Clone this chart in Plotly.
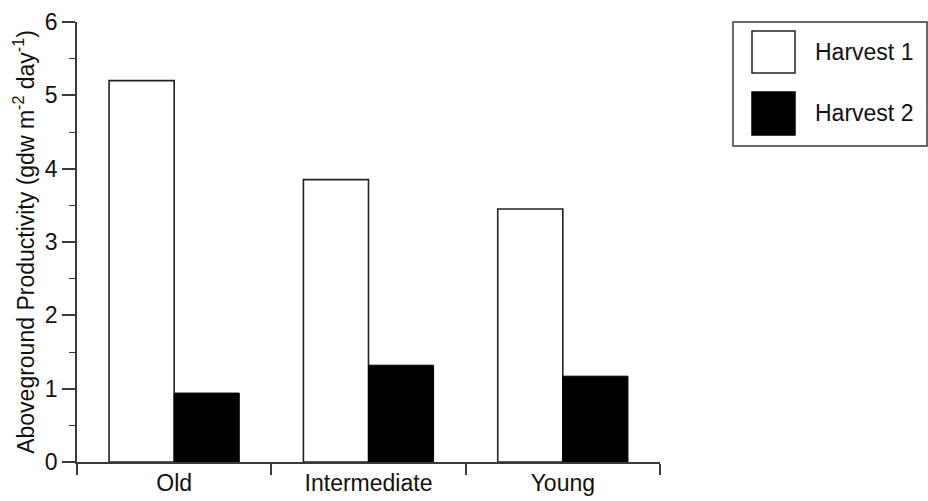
import plotly.graph_objects as go

# Aboveground productivity by stand age, two harvests
stands = ["Old", "Intermediate", "Young"]
series_names = ["Harvest 1", "Harvest 2"]
harvest1 = [5.2, 3.85, 3.45]
harvest2 = [0.94, 1.32, 1.17]

W, H = 928, 501
L, R, T, B = 77, 268, 22, 39
plot_w = W - L - R
plot_h = H - T - B

FONT = "Liberation Sans, Arial, Helvetica, sans-serif"
FS = 23
AXIS = "#3a3a3a"
TEXT = "#111111"


def px_x(px):
    return (px - L) / plot_w


def px_y(py):
    return (H - B - py) / plot_h


fig = go.Figure()
fig.add_trace(go.Bar(
    x=stands, y=harvest1, name=series_names[0],
    marker=dict(color="white", line=dict(color="#222222", width=1.6)),
))
fig.add_trace(go.Bar(
    x=stands, y=harvest2, name=series_names[1],
    marker=dict(color="black", line=dict(color="black", width=1)),
))

# Hand-drawn legend with large swatches
shapes = [
    dict(type="rect", xref="paper", yref="paper",
         x0=px_x(733), x1=px_x(927), y0=px_y(146), y1=px_y(22),
         line=dict(color=AXIS, width=1.5), fillcolor="rgba(0,0,0,0)"),
    dict(type="rect", xref="paper", yref="paper",
         x0=px_x(752), x1=px_x(795), y0=px_y(73), y1=px_y(31),
         line=dict(color="#222222", width=1.5), fillcolor="white"),
    dict(type="rect", xref="paper", yref="paper",
         x0=px_x(752), x1=px_x(795), y0=px_y(135), y1=px_y(92),
         line=dict(color="black", width=1.5), fillcolor="black"),
]
annotations = [
    dict(xref="paper", yref="paper", x=px_x(813), y=px_y(52),
         text=series_names[0], showarrow=False, xanchor="left", yanchor="middle",
         font=dict(family=FONT, size=FS, color=TEXT)),
    dict(xref="paper", yref="paper", x=px_x(813), y=px_y(113),
         text=series_names[1], showarrow=False, xanchor="left", yanchor="middle",
         font=dict(family=FONT, size=FS, color=TEXT)),
]

fig.update_layout(
    width=W, height=H,
    margin=dict(l=L, r=R, t=T, b=B, pad=0, autoexpand=False),
    paper_bgcolor="white", plot_bgcolor="white",
    barmode="group", bargap=0.33, bargroupgap=0,
    showlegend=False,
    font=dict(family=FONT, size=FS, color=TEXT),
    shapes=shapes, annotations=annotations,
)
fig.update_xaxes(
    type="category", range=[-0.5, 2.5], automargin=False,
    showline=True, linecolor=AXIS, linewidth=1.5,
    ticks="outside", tickson="boundaries", ticklen=11, tickwidth=1.5, tickcolor=AXIS,
    ticklabelstandoff=0,
    showgrid=False, zeroline=False,
    tickfont=dict(family=FONT, size=FS, color=TEXT),
)
fig.update_yaxes(
    range=[0, 6], dtick=1, automargin=False,
    showline=True, linecolor=AXIS, linewidth=1.5,
    ticks="outside", ticklen=13, tickwidth=1.5, tickcolor=AXIS,
    minor=dict(ticks="outside", ticklen=6, dtick=0.5, tickwidth=1.2, tickcolor=AXIS),
    showgrid=False, zeroline=False,
    tickfont=dict(family=FONT, size=FS, color=TEXT),
    title=dict(text="Aboveground Productivity (gdw m<sup>-2</sup> day<sup>-1</sup>)",
               font=dict(family=FONT, size=FS, color=TEXT), standoff=4),
)

fig.write_html("out.html")
